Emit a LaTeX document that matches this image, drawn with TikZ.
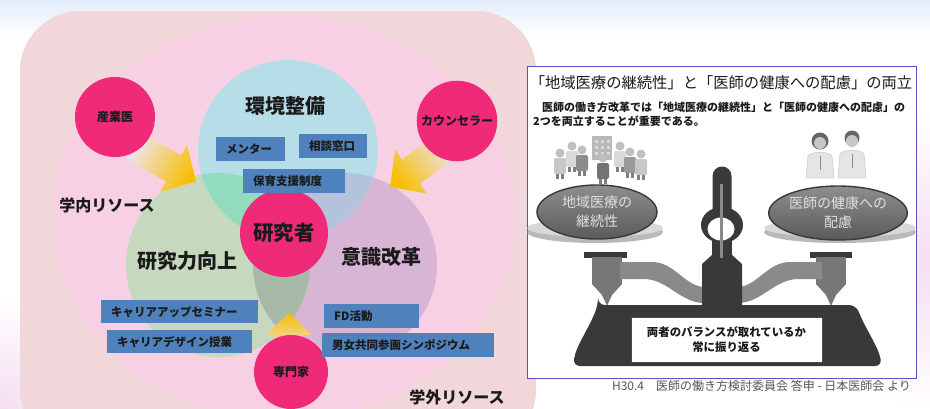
\documentclass[tikz,border=0pt]{standalone}
\usepackage{fontspec}
\setmainfont{Noto Sans CJK JP}
\usetikzlibrary{shapes.geometric}

% palette
\definecolor{ink}{HTML}{1A1A1A}
\definecolor{bgtop}{HTML}{E4EDFA}
\definecolor{glow}{HTML}{F4DDF1}
\definecolor{outeredge}{HTML}{F1D7D9}
\definecolor{outermid}{HTML}{F9F0F0}
\definecolor{bigpink}{HTML}{F8D0E4}
\definecolor{blueC}{HTML}{B7DDE9}
\definecolor{greenC}{HTML}{C6D9BF}
\definecolor{purpleC}{HTML}{D9B5D5}
\definecolor{bgOv}{HTML}{92DCBD}
\definecolor{bpOv}{HTML}{B4C2DC}
\definecolor{gpOv}{HTML}{A7BAA7}
\definecolor{allOv}{HTML}{9EC4C2}
\definecolor{magenta}{HTML}{EF2A78}
\definecolor{boxblue}{HTML}{4F81BD}
\definecolor{gold}{HTML}{F8BE00}
\definecolor{goldmid}{HTML}{F4D89C}
\definecolor{arrowtail}{HTML}{ECE4F2}
\definecolor{panelblue}{HTML}{5753C6}
\definecolor{platelight}{HTML}{D8D8D8}
\definecolor{platedark}{HTML}{B9B9B9}
\definecolor{weighttop}{HTML}{8E8E8E}
\definecolor{weightbot}{HTML}{5A5A5A}
\definecolor{postc}{HTML}{3B3838}
\definecolor{armc}{HTML}{8A8A8A}
\definecolor{cylc}{HTML}{777777}
\definecolor{capgray}{HTML}{555555}

\tikzset{
  bigword/.style={text=ink, font=\bfseries\fontsize{20}{24}\selectfont},
  reslabel/.style={text=ink, font=\bfseries\fontsize{16}{19}\selectfont},
  hub/.style={circle, fill=magenta, draw=none, text=ink, font=\bfseries\fontsize{12}{14}\selectfont},
  tag/.style={fill=boxblue, draw=none, anchor=north west, inner xsep=10pt, inner ysep=0pt,
              align=left, text=ink, font=\bfseries\fontsize{11.5}{13}\selectfont},
  weight/.style={ellipse, draw=postc, line width=1.4pt, top color=weighttop, bottom color=weightbot,
                 minimum width=120pt, minimum height=54pt, inner sep=0pt, align=center,
                 text=white!88!black, font=\fontsize{14}{19}\selectfont},
}

% gradient arrow: #1 tip, #2 direction, #3 shading angle, #4 shaft length, #5 head half width, #6 head length
\newcommand\goldarrow[6]{%
  \begin{scope}[shift={#1}, rotate=#2]
    \shade[bottom color=arrowtail, middle color=goldmid, top color=gold, shading angle=#3]
      (0,0) -- (-#6,#5) -- (-#6,15) -- ({-#6-#4},15) -- ({-#6-#4},-15) -- (-#6,-15) -- (-#6,-#5) -- cycle;
  \end{scope}}

\begin{document}
\begin{tikzpicture}[x=1pt, y=-1pt]
\useasboundingbox (0,0) rectangle (930,408);

% ---------- backdrop ----------
\fill[white] (0,0) rectangle (930,408);
\begin{scope}
  \clip (0,0) rectangle (930,408);
  \shade[top color=bgtop, bottom color=white] (0,0) rectangle (930,36);
  \shade[inner color=glow, outer color=white] (940,260) circle [radius=150];
  \shade[inner color=glow, outer color=white] (0,408) circle [radius=110];
\end{scope}

% outer resource frame
\shade[left color=outeredge, middle color=outermid, right color=outeredge, rounded corners=60]
  (20,11) rectangle (536,450);

% inner resource field
\fill[bigpink] (284,218) ellipse [x radius=231, y radius=202];

% ---------- three themes ----------
\fill[greenC]  (218,265) circle [radius=92];
\fill[purpleC] (345,265) circle [radius=92];
\fill[blueC]   (288,150) circle [radius=90];
\begin{scope}
  \clip (218,265) circle [radius=92];
  \fill[gpOv] (345,265) circle [radius=92];
\end{scope}
\begin{scope}
  \clip (288,150) circle [radius=90];
  \fill[bgOv] (218,265) circle [radius=92];
  \fill[bpOv] (345,265) circle [radius=92];
  \clip (218,265) circle [radius=92];
  \fill[allOv] (345,265) circle [radius=92];
\end{scope}

% ---------- arrows toward the researcher ----------
\goldarrow{(196,181.5)}{-30}{-120}{45}{27}{26}
\goldarrow{(390,187)}{216}{126}{45}{27}{26}
\goldarrow{(289,313)}{90}{0}{20}{23}{22}

% ---------- supporters ----------
\node[hub, minimum size=80pt] (doc)  at (115,117) {産業医};
\node[hub, minimum size=78pt] (cns)  at (457,121) {カウンセラー};
\node[hub, minimum size=74pt] (pro)  at (291,372) {専門家};
\node[hub, minimum size=88pt, font=\bfseries\fontsize{20.5}{24}\selectfont] (res) at (284,233) {研究者};

% ---------- theme titles ----------
\node[bigword] (env)  at (285,106) {環境整備};
\node[bigword] (abil) at (187,261) {研究力向上};
\node[bigword] (mind) at (381,257) {意識改革};
\node[reslabel] (inner) at (107,205) {学内リソース};
\node[reslabel] (outer) at (457,397) {学外リソース};

% ---------- measures ----------
\node[tag, text width=49pt,  minimum height=24pt] (m1) at (216,137) {メンター};
\node[tag, text width=48pt,  minimum height=24pt] (m2) at (299,134) {相談窓口};
\node[tag, text width=82pt,  minimum height=24pt] (m3) at (243,169) {保育支援制度};
\node[tag, text width=137pt, minimum height=23pt] (m4) at (101,300) {キャリアアップセミナー};
\node[tag, text width=125pt, minimum height=23pt] (m5) at (107,330) {キャリアデザイン授業};
\node[tag, text width=75pt,  minimum height=24pt] (m6) at (324,304) {FD活動};
\node[tag, text width=152pt, minimum height=24pt] (m7) at (322,333) {男女共同参画シンポジウム};

% ---------- balance panel ----------
\draw[panelblue, line width=1pt, fill=white] (527,66) rectangle (916,378);
\node[text=ink, inner sep=0pt, font=\fontsize{15.3}{18}\selectfont] (ttl) at (721,83)
  {「地域医療の継続性」と「医師の健康への配慮」の両立};
\node[anchor=west, inner sep=0pt, text=ink, font=\bfseries\fontsize{11}{13}\selectfont] (sub1) at (542,107)
  {医師の働き方改革では「地域医療の継続性」と「医師の健康への配慮」の};
\node[anchor=west, inner sep=0pt, text=ink, font=\bfseries\fontsize{11}{13}\selectfont] (sub2) at (533,121)
  {2つを両立することが重要である。};

% community group
\begin{scope}
  \fill[black!28] (592,136) rectangle (612,160);
  \foreach \wx in {595,601,607} \foreach \wy in {140,146,152} \fill[white!85!black] (\wx,\wy) rectangle ++(3,3);
  \foreach \hx/\hy/\bc in {560/153/black!22, 572/146/black!15, 582/150/black!45, 603/158/black!55,
                           620/146/black!15, 630/152/black!40, 641/154/black!22} {
    \fill[black!25] (\hx,\hy) circle [radius=4.5];
    \fill[\bc, rounded corners=2] (\hx-6,\hy+5) rectangle (\hx+6,\hy+21);
    \fill[black!50] (\hx-4,\hy+21) rectangle (\hx-1,\hy+26);
    \fill[black!50] (\hx+1,\hy+21) rectangle (\hx+4,\hy+26);
  }
\end{scope}

% two doctors
\begin{scope}
  \fill[black!10, draw=black!25] (806,178) -- (808,156) .. controls (812,151) and (828,151) .. (832,156) -- (834,178) -- cycle;
  \fill[black!60] (820,141) circle [radius=8.5];
  \fill[black!22] (820,143) circle [radius=6];
  \draw[black!45, line width=1pt] (820,156) -- (820,170);
  \fill[black!10, draw=black!25] (838,178) -- (840,154) .. controls (844,149) and (860,149) .. (864,154) -- (866,178) -- cycle;
  \fill[black!60] (852,138) circle [radius=7.5];
  \fill[black!22] (852,141) circle [radius=6];
  \draw[black!45, line width=1pt] (852,154) -- (852,168);
\end{scope}

% scale body
\begin{scope}
  \clip (527.5,66.5) rectangle (915.5,377.5);
  % pans
  \fill[platedark]  (595,232) ellipse [x radius=68, y radius=11];
  \fill[platelight] (595,228) ellipse [x radius=68, y radius=9];
  \fill[platedark]  (840,232) ellipse [x radius=76, y radius=11];
  \fill[platelight] (840,228) ellipse [x radius=76, y radius=9];
\end{scope}
% pan holders
\fill[postc] (584,252) rectangle (627,258);
\fill[postc] (810,252) rectangle (852,258);
\fill[cylc] (592,257) rectangle (622,284);
\fill[cylc] (816,257) rectangle (846,284);
\fill[cylc] (592,284) -- (622,284) -- (612,295) -- (607,306) -- (602,295) -- cycle;
\fill[cylc] (816,284) -- (846,284) -- (836,295) -- (831,306) -- (826,295) -- cycle;
% arms
\fill[armc] (620,262) -- (652,262) .. controls (674,262) and (684,285) .. (703,287)
  -- (703,303) .. controls (680,302) and (668,280) .. (645,279) -- (620,279) -- cycle;
\fill[armc] (822,262) -- (790,262) .. controls (768,262) and (758,285) .. (739,287)
  -- (739,303) .. controls (762,302) and (774,280) .. (797,279) -- (822,279) -- cycle;
% pillar and pointer
\fill[postc] (712.5,215) -- (712.5,176) arc [start angle=180, end angle=360, radius=9.5] -- (731.5,215) -- cycle;
\fill[postc] (722,225) ellipse [x radius=21, y radius=18];
\fill[postc] (712,238) rectangle (732,262);
\fill[postc] (712,255) -- (732,255) -- (742,264) -- (742,312) -- (702,312) -- (702,264) -- cycle;
\fill[white] (721,229) ellipse [x radius=13.5, y radius=11.5];
\draw[armc, line width=3.5pt] (721.5,184) -- (721.5,258);
% base
\fill[postc, rounded corners=7] (598,305) -- (856,305) .. controls (866,330) and (878,346) .. (882,366)
  -- (573,366) .. controls (576,346) and (588,330) .. (598,305) -- cycle;
\node[fill=white, draw=black!70, line width=0.6pt, minimum width=191pt, minimum height=45pt, inner sep=0pt,
      align=center, text=ink, font=\bfseries\fontsize{11.4}{15}\selectfont] (note) at (726.5,340)
  {両者のバランスが取れているか\\常に振り返る};

% weights on the pans
\node[weight] (w1) at (597,212) {地域医療の\\継続性};
\node[weight] (w2) at (838,213) {医師の健康への\\配慮};

% source line
\node[anchor=east, inner sep=0pt, text=capgray, font=\fontsize{12}{14}\selectfont] (src) at (911,386)
  {H30.4　医師の働き方検討委員会 答申 - 日本医師会 より};

\end{tikzpicture}
\end{document}
